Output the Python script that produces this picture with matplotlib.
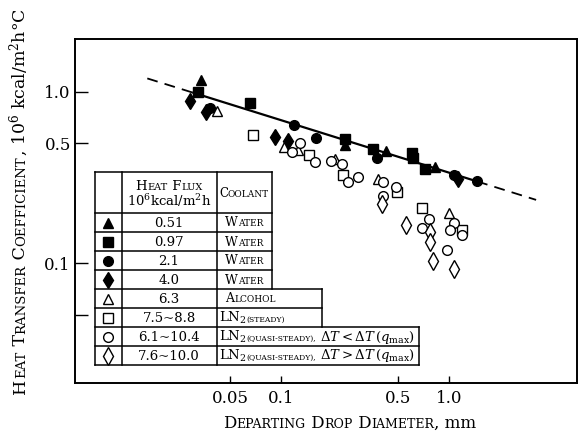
import matplotlib
matplotlib.use('Agg')
import matplotlib.pyplot as plt
from matplotlib.ticker import NullLocator, FixedLocator, FixedFormatter

plt.rcParams['font.family'] = 'DejaVu Serif'
plt.rcParams['mathtext.fontset'] = 'dejavuserif'

# --- data (diameter mm, h in 10^6 kcal/m2h C) ---
tri_fill_x = [0.0334, 0.240, 0.419, 0.826]
tri_fill_y = [1.175, 0.490, 0.452, 0.366]
sq_fill_x = [0.0321, 0.0653, 0.240, 0.351, 0.603, 0.614, 0.715]
sq_fill_y = [1.00, 0.866, 0.531, 0.466, 0.440, 0.411, 0.356]
circ_fill_x = [0.0378, 0.120, 0.162, 0.375, 1.071, 1.459]
circ_fill_y = [0.806, 0.640, 0.538, 0.412, 0.327, 0.303]
dia_fill_x = [0.0287, 0.0358, 0.0921, 0.1105, 1.136]
dia_fill_y = [0.880, 0.759, 0.546, 0.514, 0.310]
tri_open_x = [0.0416, 0.104, 0.127, 0.210, 0.380, 1.00]
tri_open_y = [0.774, 0.475, 0.461, 0.406, 0.310, 0.197]
sq_open_x = [0.0679, 0.147, 0.235, 0.487, 0.693, 1.187]
sq_open_y = [0.561, 0.428, 0.327, 0.260, 0.210, 0.157]
circ_open_x = [0.130, 0.116, 0.159, 0.199, 0.230, 0.250, 0.287, 0.406,
               0.482, 0.403, 0.763, 0.690, 1.071, 1.014, 1.190, 0.969]
circ_open_y = [0.501, 0.448, 0.391, 0.395, 0.378, 0.296, 0.318, 0.296,
               0.279, 0.245, 0.180, 0.160, 0.171, 0.156, 0.146, 0.120]
dia_open_x = [0.397, 0.552, 0.771, 0.771, 0.800, 1.071]
dia_open_y = [0.221, 0.167, 0.152, 0.133, 0.103, 0.092]

fit_x = [0.030, 1.47]
fit_y = [0.99, 0.30]
fit_left_x = [0.016, 0.030]
fit_left_y = [1.20, 0.99]
fit_right_x = [1.47, 3.3]
fit_right_y = [0.30, 0.234]

heat_flux = ['0.51', '0.97', '2.1', '4.0', '6.3', '7.5~8.8', '6.1~10.4', '7.6~10.0']

x_ticks = [0.05, 0.1, 0.5, 1.0]
x_labels = ['0.05', '0.1', '0.5', '1.0']
y_ticks = [0.05, 0.1, 0.5, 1.0]
y_labels = ['', '0.1', '0.5', '1.0']

series = [
    (tri_fill_x, tri_fill_y, '^', 'k', 7.5),
    (sq_fill_x, sq_fill_y, 's', 'k', 6.5),
    (circ_fill_x, circ_fill_y, 'o', 'k', 7),
    (dia_fill_x, dia_fill_y, 'd', 'k', 8.5),
    (tri_open_x, tri_open_y, '^', 'w', 7.5),
    (sq_open_x, sq_open_y, 's', 'w', 6.5),
    (circ_open_x, circ_open_y, 'o', 'w', 7),
    (dia_open_x, dia_open_y, 'd', 'w', 9),
]

fig = plt.figure(figsize=(5.83, 4.38), dpi=100)
W, H = 583, 438
ax = fig.add_axes([75 / W, 1 - 383 / H, (577 - 75) / W, (383 - 39) / H])
ax.set_xscale('log')
ax.set_yscale('log')
ax.set_xlim(0.00594, 5.78)
ax.set_ylim(0.0199, 2.04)

ax.plot(fit_x, fit_y, color='k', lw=1.6, zorder=2)
ax.plot(fit_left_x, fit_left_y, color='k', lw=1.3, dashes=(6, 4), zorder=2)
ax.plot(fit_right_x, fit_right_y, color='k', lw=1.3, dashes=(6, 4), zorder=2)

for xs, ys, m, fc, ms in series:
    ax.plot(xs, ys, ls='none', marker=m, ms=ms, mfc=fc, mec='k', mew=1.0, zorder=3)

for s in ax.spines.values():
    s.set_linewidth(1.4)
ax.xaxis.set_major_locator(FixedLocator(x_ticks))
ax.xaxis.set_major_formatter(FixedFormatter(x_labels))
ax.yaxis.set_major_locator(FixedLocator(y_ticks))
ax.yaxis.set_major_formatter(FixedFormatter(y_labels))
ax.xaxis.set_minor_locator(NullLocator())
ax.yaxis.set_minor_locator(NullLocator())
ax.tick_params(axis='x', direction='in', length=5, width=1, pad=5, labelsize=12)
ax.tick_params(axis='y', direction='in', length=9, width=1, pad=3, labelsize=12)

# overlay in pixel coordinates for labels and the table
ov = fig.add_axes([0, 0, 1, 1])
ov.set_xlim(0, W)
ov.set_ylim(H, 0)
ov.axis('off')
ov.patch.set_alpha(0)

rend = fig.canvas.get_renderer()


def caps_text(x, y, parts, rotation=0, ha='center'):
    arts = []
    for s, fs in parts:
        arts.append(ov.text(x, y, s, fontsize=fs, rotation=rotation,
                            rotation_mode='anchor', ha='left', va='baseline'))
    sizes = []
    for t in arts:
        bb = t.get_window_extent(rend)
        sizes.append(bb.height if rotation == 90 else bb.width)
    total = sum(sizes)
    pos = {'left': 0, 'center': -total / 2, 'right': -total}[ha]
    for t, w in zip(arts, sizes):
        if rotation == 90:
            t.set_position((x, y - pos))
        else:
            t.set_position((x + pos, y))
        pos += w


B, S = 12.5, 9.5
ylab = [('H', B), ('EAT', S), (' T', B), ('RANSFER', S), (' C', B), ('OEFFICIENT', S),
        (r', 10$^6$ kcal/m$^2$h°C', B)]
caps_text(25, 201, ylab, rotation=90)
B, S = 12, 9
xlab = [('D', B), ('EPARTING', S), (' D', B), ('ROP', S), (' D', B), ('IAMETER', S), (', mm', B)]
caps_text(350, 428, xlab)

# table
lw = 1.1
hl = [(172, 271.7), (213, 271.7), (232, 271.7), (251, 271.7), (270, 271.7),
      (289, 322.3), (308, 322.3), (327, 419.3), (346, 419.3), (365, 419.3)]
for yy, xr in hl:
    ov.plot([95, xr], [yy, yy], color='k', lw=lw)
for xx, y0, y1 in [(95, 172, 365), (121.7, 172, 365), (216.7, 172, 365),
                   (271.7, 172, 289), (322.3, 289, 327), (419.3, 327, 365)]:
    ov.plot([xx, xx], [y0, y1], color='k', lw=lw)

T, t = 9.5, 7
caps_text(169, 190, [('H', T), ('EAT', t), (' F', T), ('LUX', t)])
caps_text(169, 206, [(r'10$^6$kcal/m$^2$h', T)])
caps_text(244, 197, [('C', 8.5), ('OOLANT', 6.5)])

math_lt = r' $\mathit{\Delta T}<\mathit{\Delta T}\,(q_{\mathrm{max}})$'
math_gt = r' $\mathit{\Delta T}>\mathit{\Delta T}\,(q_{\mathrm{max}})$'
coolant = [
    ('center', [('W', 9), ('ATER', 6.5)]),
    ('center', [('W', 9), ('ATER', 6.5)]),
    ('center', [('W', 9), ('ATER', 6.5)]),
    ('center', [('W', 9), ('ATER', 6.5)]),
    ('left', [('A', 9), ('LCOHOL', 6.5)]),
    ('left', [('LN$_2$', 9.5), ('(STEADY)', 5.5)]),
    ('left', [('LN$_2$', 9.5), ('(QUASI-STEADY),', 5.5), (math_lt, 9.5)]),
    ('left', [('LN$_2$', 9.5), ('(QUASI-STEADY),', 5.5), (math_gt, 9.5)]),
]
for i, ((xs, ys, m, fc, ms), val, (al, parts)) in enumerate(zip(series, heat_flux, coolant)):
    yc = 213 + 19 * (i + 0.5)
    ov.plot([108], [yc], ls='none', marker=m, ms=ms, mfc=fc, mec='k', mew=1.0)
    caps_text(169, yc + 4.5, [(val, T)])
    if al == 'center':
        caps_text(244, yc + 4, parts)
    else:
        caps_text(219 if i != 4 else 225, yc + 4, parts, ha='left')

fig.savefig('out.png', dpi=100)
